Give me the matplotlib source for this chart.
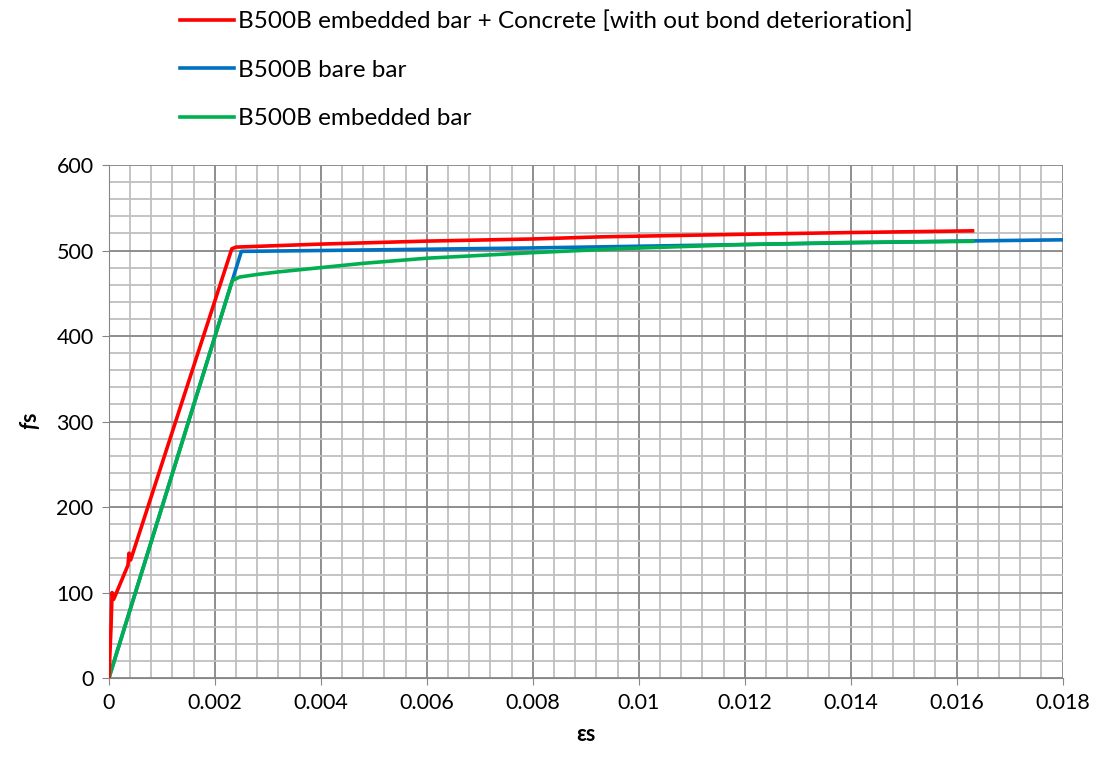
import numpy as np
import matplotlib.pyplot as plt
from matplotlib.ticker import MultipleLocator, FuncFormatter

plt.rcParams['font.family'] = ['Lato', 'DejaVu Sans']
plt.rcParams['mathtext.fontset'] = 'custom'
plt.rcParams['mathtext.bfit'] = 'Lato:bold:italic'

# B500B embedded bar + Concrete [with out bond deterioration]
red_x = [0, 0.00004, 0.00006, 0.00009, 0.00036, 0.00038, 0.00041, 0.00232, 0.0024,
         0.004, 0.006, 0.008, 0.0093, 0.012, 0.014, 0.0163]
red_y = [0, 60, 100, 92, 132, 146, 138, 502, 504,
         507.5, 511, 513.5, 516, 519, 521, 523]

# B500B bare bar
blue_x = [0, 0.0025, 0.004, 0.006, 0.008, 0.01, 0.012, 0.014, 0.016, 0.018]
blue_y = [0, 499, 500, 501.5, 503, 505, 507, 509, 511, 512.5]

# B500B embedded bar
green_x = [0, 0.00233, 0.00247, 0.0028, 0.0032, 0.004, 0.0048, 0.006, 0.008,
           0.0098, 0.012, 0.014, 0.0163]
green_y = [0, 465, 469, 472, 475, 480, 485, 491, 497.5,
           502.5, 507, 509.5, 510.7]

fig = plt.figure(figsize=(11, 7.65), dpi=100)
ax = fig.add_axes([0.099, 0.1137, 0.867, 0.6706])

ax.plot(blue_x, blue_y, color='#0070C0', lw=2.6, label='B500B bare bar', zorder=3)
ax.plot(green_x, green_y, color='#00B050', lw=2.6, label='B500B embedded bar', zorder=4)
ax.plot(red_x, red_y, color='#FF0000', lw=2.6,
        label='B500B embedded bar + Concrete [with out bond deterioration]', zorder=5)

ax.set_xlim(0, 0.018)
ax.set_ylim(0, 600)
ax.xaxis.set_major_locator(MultipleLocator(0.002))
ax.xaxis.set_minor_locator(MultipleLocator(0.0004))
ax.yaxis.set_major_locator(MultipleLocator(100))
ax.yaxis.set_minor_locator(MultipleLocator(20))
ax.xaxis.set_major_formatter(FuncFormatter(lambda v, p: '0' if v == 0 else ('%.3f' % v).rstrip('0')))

ax.grid(which='major', color='#868686', lw=1.3)
ax.grid(which='minor', color='#bfbfbf', lw=1.3)
ax.set_axisbelow(True)

for s in ['top', 'right']:
    ax.spines[s].set_visible(False)
ax.spines['left'].set_color('#868686')
ax.spines['bottom'].set_color('#868686')
ax.tick_params(which='major', length=5, color='#868686', labelsize=15.5, pad=6)
ax.tick_params(which='minor', length=0)

ax.set_xlabel('εs', fontsize=15.5, fontweight='bold', labelpad=8)
ax.set_ylabel(r'$\mathbfit{f}$s', fontsize=15.5, fontweight='bold', labelpad=10)

h, l = ax.get_legend_handles_labels()
order = [2, 0, 1]
fig.legend([h[i] for i in order], [l[i] for i in order], loc='upper left',
           bbox_to_anchor=(0.153, 1.002), frameon=False, fontsize=17.5,
           borderpad=0, handlelength=2.2, handletextpad=0.15, labelspacing=1.13)

fig.savefig('out.png', dpi=100)
